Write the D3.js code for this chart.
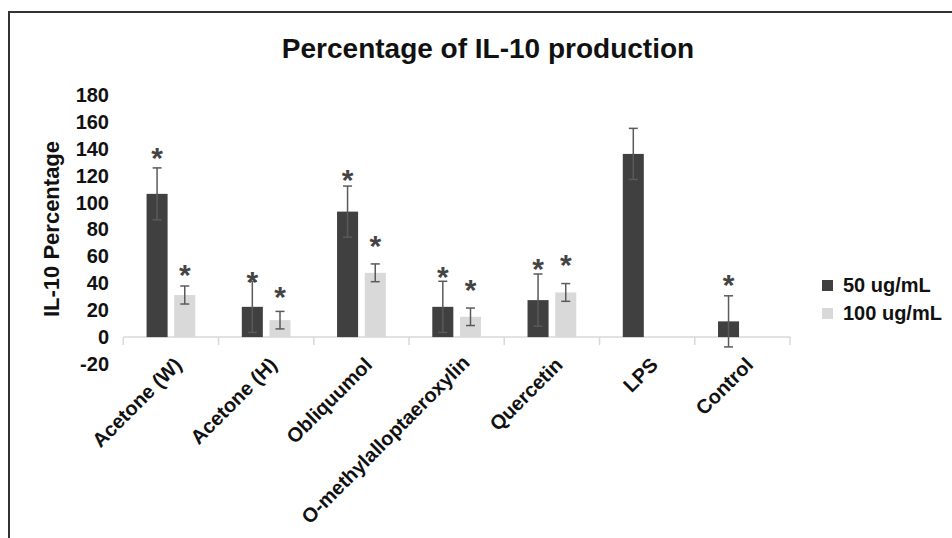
<!DOCTYPE html>
<html>
<head>
<meta charset="utf-8">
<script src="https://cdn.jsdelivr.net/npm/d3@7"></script>
<style>
  body { margin: 0; background: #fff; }
  svg text { font-family: "Liberation Sans", Arial, sans-serif; font-weight: bold; }
</style>
</head>
<body>
<div id="my_dataviz"></div>
<script>
// chart data
const categories = ["Acetone (W)", "Acetone (H)", "Obliquumol", "O-methylalloptaeroxylin", "Quercetin", "LPS", "Control"];
const seriesNames = ["50 ug/mL", "100 ug/mL"];
const values50 = [106.5, 22.5, 93.3, 22.5, 27.5, 136.2, 11.7];
const values100 = [31.3, 12.6, 47.8, 15.1, 33.2, null, null];
const err50 = [19.3, 19, 19, 19, 19.4, 19, 19];
const err100 = [6.7, 6.5, 6.6, 6.5, 6.6, null, null];
// asterisk positions (in y units), null = no star
const star50 = [138.4, 46.1, 122.2, 49.9, 56, null, 43.7];
const star100 = [51.6, 35, 72.7, 40.4, 58.6, null, null];
const yTicks = [-20, 0, 20, 40, 60, 80, 100, 120, 140, 160, 180];

const colors = ["#404040", "#d9d9d9"];

const W = 952, H = 538;
const svg = d3.select("#my_dataviz")
  .append("svg")
    .attr("width", W)
    .attr("height", H);

// frame
svg.append("rect")
  .attr("x", 9).attr("y", 12)
  .attr("width", W).attr("height", H)
  .attr("fill", "none")
  .attr("stroke", "#333")
  .attr("stroke-width", 2);

// scales
const x = d3.scaleBand().domain(categories).range([123.3, 790]).padding(0);
const x1 = d3.scaleBand().domain(seriesNames).range([0, x.bandwidth()])
  .paddingInner(0.24).paddingOuter(0.84);
const y = d3.scaleLinear().domain([-20, 180]).range([364, 95]);

// title
svg.append("text")
  .attr("x", 488).attr("y", 58)
  .attr("text-anchor", "middle")
  .style("font-size", "28px")
  .attr("fill", "#111")
  .text("Percentage of IL-10 production");

// y axis
const yAxis = svg.append("g")
  .attr("transform", "translate(123,0)")
  .call(d3.axisLeft(y).tickValues(yTicks).tickSize(0).tickPadding(14).tickFormat(d => String(d)));
yAxis.select(".domain").remove();
yAxis.selectAll("text")
  .style("font-size", "20px")
  .attr("fill", "#111");

svg.append("text")
  .attr("transform", `translate(59,${229}) rotate(-90)`)
  .attr("text-anchor", "middle")
  .style("font-size", "22px")
  .attr("fill", "#111")
  .text("IL-10 Percentage");

// x axis line + boundary ticks
const y0 = y(0);
svg.append("line")
  .attr("x1", x.range()[0]).attr("x2", x.range()[1])
  .attr("y1", y0).attr("y2", y0)
  .attr("stroke", "#d9d9d9").attr("stroke-width", 1.5);
const bounds = categories.map(c => x(c)).concat([x.range()[1]]);
svg.selectAll(".btick")
  .data(bounds)
  .enter().append("line")
  .attr("x1", d => d).attr("x2", d => d)
  .attr("y1", y0).attr("y2", y0 + 8)
  .attr("stroke", "#d9d9d9").attr("stroke-width", 1.5);

// x labels (rotated; long ones pushed up along their direction to stay inside)
svg.selectAll(".xlabel")
  .data(categories)
  .enter().append("text")
  .attr("text-anchor", "end")
  .style("font-size", "20px")
  .attr("fill", "#111")
  .text(d => d)
  .attr("transform", function(d) {
    const w = this.getComputedTextLength();
    let ax = x(d) + x.bandwidth() / 2 + 12, ay = y0 + 29;
    const bottom = ay + w * Math.SQRT1_2;
    const over = Math.max(0, bottom - 525);
    ax += over; ay -= over;
    return `translate(${ax},${ay}) rotate(-45)`;
  });

// bars
const rows = [];
categories.forEach((c, i) => {
  rows.push({cat: c, s: seriesNames[0], v: values50[i], e: err50[i], star: star50[i], col: colors[0]});
  rows.push({cat: c, s: seriesNames[1], v: values100[i], e: err100[i], star: star100[i], col: colors[1]});
});
const data = rows.filter(d => d.v != null);

svg.append("g").selectAll("rect")
  .data(data)
  .enter().append("rect")
  .attr("x", d => x(d.cat) + x1(d.s))
  .attr("y", d => y(Math.max(0, d.v)))
  .attr("width", x1.bandwidth())
  .attr("height", d => Math.abs(y(d.v) - y(0)))
  .attr("fill", d => d.col);

// error bars
const eb = svg.append("g").attr("stroke", "#5a5a5a").attr("stroke-width", 1.5);
data.forEach(d => {
  const cx = x(d.cat) + x1(d.s) + x1.bandwidth() / 2;
  const hi = y(d.v + d.e), lo = y(d.v - d.e);
  eb.append("line").attr("x1", cx).attr("x2", cx).attr("y1", hi).attr("y2", lo);
  eb.append("line").attr("x1", cx - 4.5).attr("x2", cx + 4.5).attr("y1", hi).attr("y2", hi);
  eb.append("line").attr("x1", cx - 4.5).attr("x2", cx + 4.5).attr("y1", lo).attr("y2", lo);
});

// asterisks
svg.append("g").selectAll("text")
  .data(rows.filter(d => d.star != null))
  .enter().append("text")
  .attr("x", d => x(d.cat) + x1(d.s) + x1.bandwidth() / 2)
  .attr("y", d => y(d.star) + 17)
  .attr("text-anchor", "middle")
  .style("font-size", "30px")
  .attr("fill", "#444")
  .text("*");

// legend
const legend = svg.append("g");
seriesNames.forEach((s, i) => {
  legend.append("rect")
    .attr("x", 822).attr("y", 280 + i * 28)
    .attr("width", 11).attr("height", 11)
    .attr("fill", colors[i]);
  legend.append("text")
    .attr("x", 843).attr("y", 292 + i * 28)
    .style("font-size", "20px")
    .attr("fill", "#111")
    .text(s);
});
</script>
</body>
</html>
